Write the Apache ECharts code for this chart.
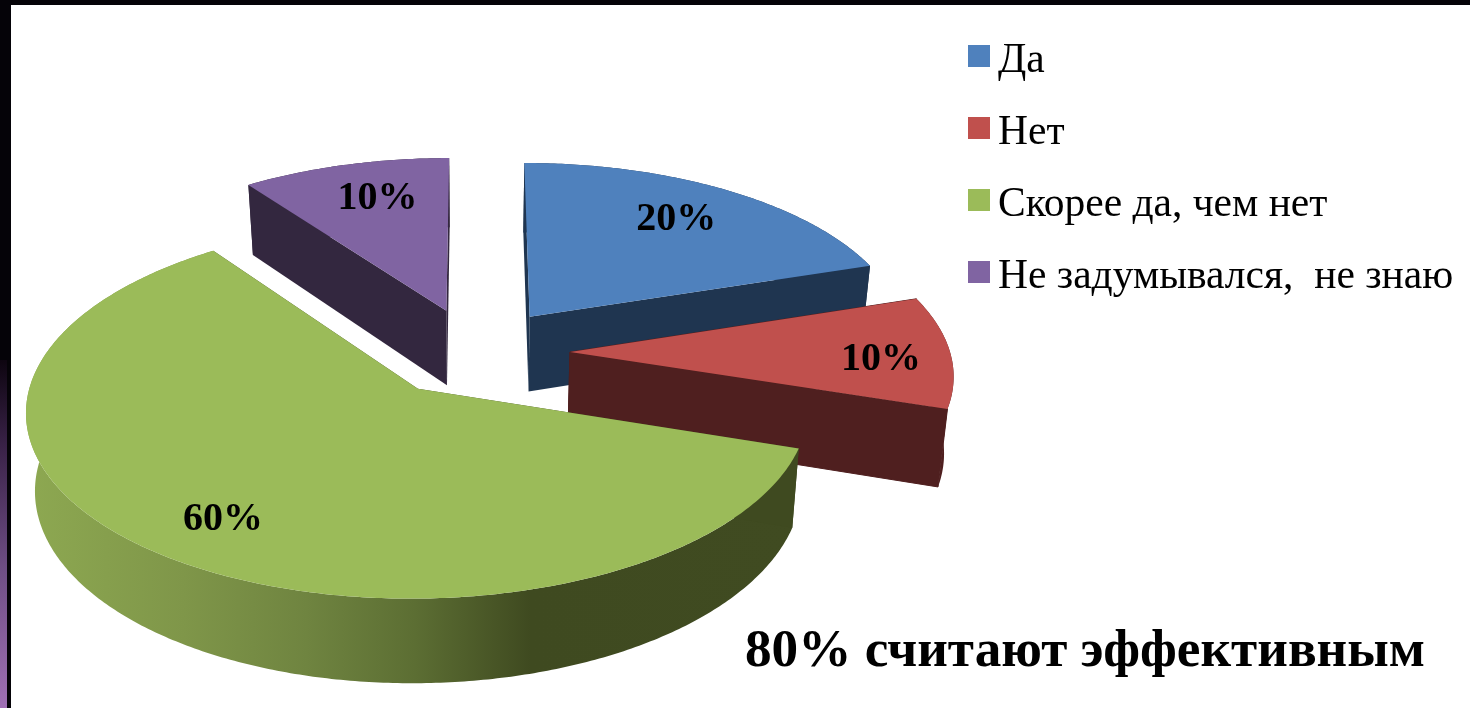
<!DOCTYPE html>
<html>
<head>
<meta charset="utf-8">
<title>chart</title>
<script src="https://cdn.jsdelivr.net/npm/echarts@6/dist/echarts.min.js"></script>
<style>
    html,body{margin:0;padding:0;background:#fff;overflow:hidden;}
    #main{width:1470px;height:708px;}
</style>
</head>
<body>
<div id="main"></div>
<script>
var categories = ['Да', 'Нет', 'Скорее да, чем нет', 'Не задумывался,  не знаю'];
var values = [20, 10, 60, 10];
var note = '80% считают эффективным';

var topColors = ['#4f81bd', '#c0504d', '#9bbb59', '#8064a2'];
var wallColors = ['#1f3550', '#4f1f1f', '#3f4a20', '#33273f'];
// how far along the mid angle each percent label sits, plus a small nudge in px
var labelRadius = [0.74, 0.816, 0.79, 0.73];
var labelNudge = [[-2, -1], [1, 8], [4, 3], [7, -3]];

// fake 3d pie: a disc seen from above with perspective, slices pulled out of the centre
var pie = {
    cx: 475, cy: 352,
    rx: 380, ry: 178,
    persp: 0.11,
    explode: 0.25,
    depth: 76,
    bottomX: 0.98,
    bottomY: 1.035
};

var total = values.reduce(function(a, b){ return a + b; }, 0);
var fontName = '"Liberation Serif", serif';

function sliceAngles(i){
    var sum = 0;
    for (var n = 0; n < i; n++) sum += values[n];
    return {start: sum / total * Math.PI * 2, end: (sum + values[i]) / total * Math.PI * 2};
}

// disc coordinates (1 = radius, Y goes to the back) to screen
function topPoint(X, Y){
    var d = 1 + pie.persp * Y;
    return [pie.cx + pie.rx * X / d, pie.cy - pie.ry * Y / d];
}
function bottomPoint(X, Y){
    var p = topPoint(X, Y);
    return [
        pie.cx + (p[0] - pie.cx) * pie.bottomX,
        pie.cy + (p[1] - pie.cy) * pie.bottomY + pie.depth
    ];
}

function renderSlice(i){
    return function(params, api){
        var share = api.value(0) / total;
        var ang = sliceAngles(i);
        var mid = (ang.start + ang.end) / 2;
        var ox = pie.explode * Math.sin(mid);
        var oy = pie.explode * Math.cos(mid);

        var arcTop = [], arcBottom = [];
        var steps = Math.max(6, Math.round((ang.end - ang.start) * 90));
        for (var s = 0; s <= steps; s++){
            var a = ang.start + (ang.end - ang.start) * s / steps;
            arcTop.push(topPoint(ox + Math.sin(a), oy + Math.cos(a)));
            arcBottom.push(bottomPoint(ox + Math.sin(a), oy + Math.cos(a)));
        }
        var apexTop = topPoint(ox, oy);
        var apexBottom = bottomPoint(ox, oy);
        var labelPos = topPoint(ox + labelRadius[i] * Math.sin(mid), oy + labelRadius[i] * Math.cos(mid));

        var wallFill = wallColors[i];
        if (i === 2){
            // the long outer wall of the big slice goes from light to dark
            wallFill = new echarts.graphic.LinearGradient(30, 0, 800, 0, [
                {offset: 0, color: '#8da851'},
                {offset: 0.2, color: '#7f9649'},
                {offset: 0.36, color: '#6f8440'},
                {offset: 0.5, color: '#5c6e33'},
                {offset: 0.65, color: '#3f4a20'},
                {offset: 1, color: '#404b21'}
            ], true);
        }
        // only the red slice shows a seam between its walls
        var cutStyle = i === 1 ? {fill: wallColors[i], stroke: wallColors[i], lineWidth: 1} : {fill: wallColors[i]};

        var children = [
            {type: 'polygon', shape: {points: arcTop.concat(arcBottom.slice().reverse())}, style: {fill: wallFill}},
            {type: 'polygon', shape: {points: [apexTop, arcTop[0], arcBottom[0], apexBottom]}, style: cutStyle},
            {type: 'polygon', shape: {points: [apexTop, arcTop[steps], arcBottom[steps], apexBottom]}, style: cutStyle},
            {type: 'polygon', shape: {points: [apexTop].concat(arcTop)}, style: {fill: topColors[i]}},
            {
                type: 'text',
                style: {
                    x: labelPos[0] + labelNudge[i][0],
                    y: labelPos[1] + labelNudge[i][1],
                    text: Math.round(share * 100) + '%',
                    fill: '#000',
                    font: 'bold 40px ' + fontName,
                    align: 'center',
                    verticalAlign: 'middle'
                }
            }
        ];
        return {type: 'group', children: children};
    };
}

var myChart = echarts.init(document.getElementById('main'), null, {renderer: 'canvas'});

// draw order: back slices first, the big green one on top
var drawOrder = [3, 0, 1, 2];
var series = [];
categories.forEach(function(name, i){
    series.push({
        name: name,
        type: 'custom',
        coordinateSystem: 'none',
        renderItem: renderSlice(i),
        z: 2 + drawOrder.indexOf(i),
        silent: true,
        itemStyle: {color: topColors[i]},
        data: [[values[i]]]
    });
});

var option = {
    animation: false,
    backgroundColor: '#fff',
    title: {
        text: note,
        left: 745,
        top: 626,
        padding: 0,
        textStyle: {
            color: '#000',
            fontFamily: fontName,
            fontWeight: 'bold',
            fontSize: 53.2
        }
    },
    legend: {
        orient: 'vertical',
        left: 968,
        top: 40,
        padding: 0,
        // square in the upper part of a taller box, so the text sits a bit lower than the square
        icon: 'path://M0,0H22V22H0ZM0,32L0,32',
        itemWidth: 22,
        itemHeight: 32,
        itemGap: 30,
        selectedMode: false,
        data: categories,
        textStyle: {
            color: '#000',
            fontFamily: fontName,
            fontSize: 41.5,
            lineHeight: 36,
            padding: [0, 0, 0, 3]
        }
    },
    graphic: [
        {type: 'rect', silent: true, shape: {x: 0, y: 0, width: 1470, height: 5}, style: {fill: '#050308'}},
        {type: 'rect', silent: true, shape: {x: 0, y: 0, width: 11, height: 708}, style: {fill: '#050308'}},
        {
            type: 'rect', silent: true,
            shape: {x: 0, y: 360, width: 7, height: 348},
            style: {
                fill: new echarts.graphic.LinearGradient(0, 360, 0, 708, [
                    {offset: 0, color: '#0d0510'},
                    {offset: 0.25, color: '#3a2248'},
                    {offset: 0.6, color: '#6f4e85'},
                    {offset: 1, color: '#a070b5'}
                ], true)
            }
        }
    ],
    series: series
};
myChart.setOption(option);
window.addEventListener('resize', function(){
    myChart.resize();
});
</script>
</body>
</html>
